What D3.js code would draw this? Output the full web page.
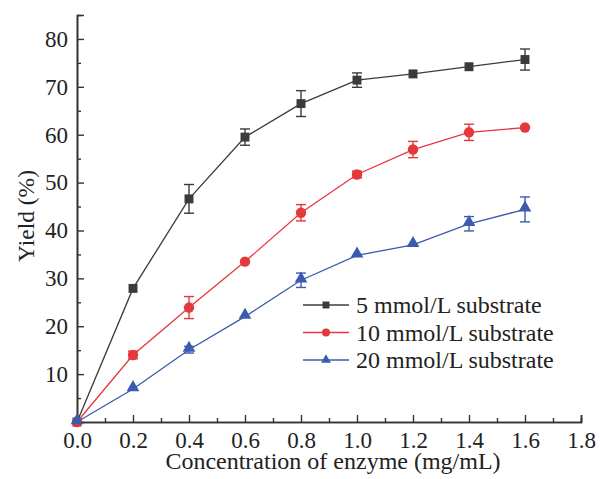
<!DOCTYPE html>
<html>
<head>
<meta charset="utf-8">
<script src="https://cdn.jsdelivr.net/npm/d3@7"></script>
<style>
  body { margin: 0; background: #fff; }
  svg text { font-family: "Liberation Serif", "Times New Roman", serif; fill: #222; }
</style>
</head>
<body>
<div class="chart"></div>
<script>
var width = 600;
var height = 479;

// data
var conc = [0, 0.2, 0.4, 0.6, 0.8, 1.0, 1.2, 1.4, 1.6];
var seriesNames = ['5 mmol/L substrate', '10 mmol/L substrate', '20 mmol/L substrate'];
var yield5 = [0, 27.9, 46.6, 59.5, 66.5, 71.4, 72.7, 74.2, 75.7];
var err5 = [0, 0.4, 3.0, 1.7, 2.7, 1.5, 0.5, 0.5, 2.2];
var yield10 = [0, 14.0, 23.9, 33.5, 43.7, 51.7, 56.9, 60.5, 61.5];
var err10 = [0, 0.8, 2.3, 0.5, 1.7, 0.7, 1.7, 1.7, 0.6];
var yield20 = [0, 6.9, 15.1, 22.0, 29.6, 34.8, 37.0, 41.4, 44.4];
var err20 = [0, 0.4, 0.7, 0.5, 1.5, 0.6, 0.5, 1.5, 2.6];
var xTicks = [0, 0.2, 0.4, 0.6, 0.8, 1.0, 1.2, 1.4, 1.6, 1.8];
var yTicks = [10, 20, 30, 40, 50, 60, 70, 80];

var colors = ['#3d3a3b', '#e5383d', '#3c5aae'];
var shapes = [d3.symbolSquare, d3.symbolCircle, d3.symbolTriangle];
var symSize = [80, 85, 70];

var series = [
  {name: seriesNames[0], y: yield5, e: err5},
  {name: seriesNames[1], y: yield10, e: err10},
  {name: seriesNames[2], y: yield20, e: err20}
];

var margin = {left: 77, right: 19, top: 15, bottom: 57};

var x = d3.scaleLinear()
  .domain([0, 1.8])
  .range([margin.left, width - margin.right]);

var y = d3.scaleLinear()
  .domain([0, 85])
  .range([height - margin.bottom, margin.top]);

var svg = d3.select('.chart')
  .append('svg')
  .attr('width', width)
  .attr('height', height);

/// axes (ticks point inward)
svg.append('g')
  .attr('class', 'axis')
  .attr('transform', 'translate(0,' + y(0) + ')')
  .call(d3.axisBottom(x).tickValues(xTicks).tickSize(-7).tickPadding(10)
    .tickFormat(d3.format('.1f')));

svg.append('g')
  .attr('transform', 'translate(0,' + y(0) + ')')
  .call(d3.axisBottom(x).tickValues(d3.range(0.1, 1.8, 0.2)).tickSize(-4).tickFormat(''));

svg.append('g')
  .attr('class', 'axis')
  .attr('transform', 'translate(' + x(0) + ',0)')
  .call(d3.axisLeft(y).tickValues(yTicks).tickSize(-7).tickPadding(9));

svg.append('g')
  .attr('transform', 'translate(' + x(0) + ',0)')
  .call(d3.axisLeft(y).tickValues(d3.range(5, 85, 10)).tickSize(-4).tickFormat(''));

svg.selectAll('.domain, .tick line')
  .attr('stroke', '#333')
  .attr('stroke-width', 1.4);
svg.selectAll('.domain').attr('stroke-width', 1.6);

svg.selectAll('.axis')
  .attr('font-family', 'Liberation Serif')
  .attr('font-size', 23);

svg.selectAll('.tick text')
  .style('font-family', '"Liberation Serif", serif')
  .style('font-size', '23px')
  .attr('fill', '#222');

/// axis titles
svg.append('text')
  .attr('text-anchor', 'middle')
  .attr('x', 333)
  .attr('y', 469)
  .attr('font-size', '24px')
  .text('Concentration of enzyme (mg/mL)');

svg.append('text')
  .attr('text-anchor', 'middle')
  .attr('transform', 'translate(34,216) rotate(-90)')
  .attr('font-size', '23.5px')
  .text('Yield (%)');

/// series
var line = d3.line()
  .x(function(d, i){ return x(conc[i]); })
  .y(function(d){ return y(d); });

series.forEach(function(s, k) {
  var g = svg.append('g');

  g.append('path')
    .attr('d', line(s.y))
    .attr('fill', 'none')
    .attr('stroke', colors[k])
    .attr('stroke-width', 1.3);

  // error bars (only where visible beyond the marker)
  var pts = conc.map(function(c, i){ return {c: c, v: s.y[i], e: s.e[i]}; })
    .filter(function(d){ return d.e > 0.6; });

  var eb = g.selectAll('.err')
    .data(pts)
    .enter().append('g')
    .attr('stroke', colors[k])
    .attr('stroke-width', 1.4);

  eb.append('line')
    .attr('x1', function(d){ return x(d.c); })
    .attr('x2', function(d){ return x(d.c); })
    .attr('y1', function(d){ return y(d.v + d.e); })
    .attr('y2', function(d){ return y(d.v - d.e); });

  eb.append('line')
    .attr('x1', function(d){ return x(d.c) - 5; })
    .attr('x2', function(d){ return x(d.c) + 5; })
    .attr('y1', function(d){ return y(d.v + d.e); })
    .attr('y2', function(d){ return y(d.v + d.e); });

  eb.append('line')
    .attr('x1', function(d){ return x(d.c) - 5; })
    .attr('x2', function(d){ return x(d.c) + 5; })
    .attr('y1', function(d){ return y(d.v - d.e); })
    .attr('y2', function(d){ return y(d.v - d.e); });

  g.selectAll('.pt')
    .data(s.y)
    .enter().append('path')
    .attr('transform', function(d, i){
      var dy = k === 2 ? -1.5 : 0;
      return 'translate(' + x(conc[i]) + ',' + (y(d) + dy) + ')';
    })
    .attr('d', d3.symbol().type(shapes[k]).size(symSize[k]))
    .attr('fill', colors[k]);
});

/// legend
var legend = svg.append('g')
  .attr('transform', 'translate(303,305)');

var rows = legend.selectAll('.row')
  .data(series)
  .enter().append('g')
  .attr('transform', function(d, i){ return 'translate(0,' + (i * 27.5) + ')'; });

rows.append('line')
  .attr('x1', 0).attr('x2', 46)
  .attr('stroke', function(d, i){ return colors[i]; })
  .attr('stroke-width', 1.3);

rows.append('path')
  .attr('transform', 'translate(23,0)')
  .attr('d', function(d, i){ return d3.symbol().type(shapes[i]).size(symSize[i] * 0.6)(); })
  .attr('fill', function(d, i){ return colors[i]; });

rows.append('text')
  .attr('x', 53)
  .attr('dy', '0.35em')
  .attr('font-size', '24px')
  .text(function(d){ return d.name; });
</script>
</body>
</html>
